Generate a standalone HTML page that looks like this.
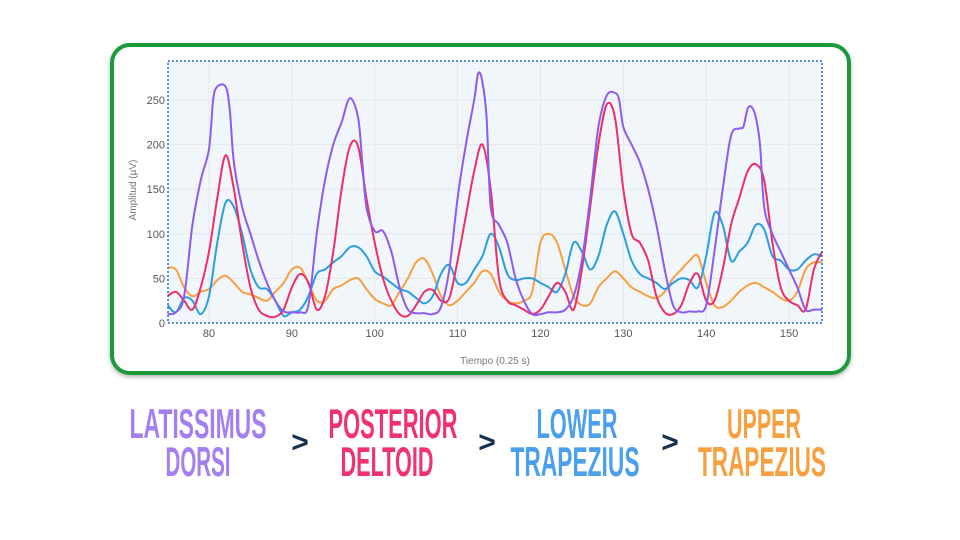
<!DOCTYPE html>
<html><head><meta charset="utf-8"><style>
html,body{margin:0;padding:0;background:#fff;}
svg{display:block;}
</style></head><body>
<svg id="s" width="960" height="540" xmlns="http://www.w3.org/2000/svg" font-family="Liberation Sans, sans-serif">
<defs><filter id="sh" x="-5%" y="-5%" width="110%" height="115%"><feDropShadow dx="0" dy="2" stdDeviation="2" flood-color="#000" flood-opacity="0.3"/></filter></defs>
<rect x="112" y="45" width="737" height="328" rx="18" fill="#fff" stroke="#1e9a3a" stroke-width="4" filter="url(#sh)"/>
<rect x="168" y="61" width="654" height="262" fill="#f1f6fa"/>
<g id="grid" stroke="#e2e8ee" stroke-width="1"></g>
<g id="lines" fill="none" stroke-width="2" stroke-linejoin="round"></g>
<rect x="168" y="61" width="654" height="262" fill="none" stroke="#1f6fd0" stroke-width="1.5" stroke-dasharray="2,2"/>
<g id="ticks" font-size="11" fill="#555"></g>
<text x="136" y="190" font-size="10" fill="#777" text-anchor="middle" transform="rotate(-90 136 190)">Amplitud (µV)</text>
<text x="495" y="364" font-size="10" fill="#777" text-anchor="middle">Tiempo (0.25 s)</text>
<g font-weight="bold" font-size="42" text-anchor="middle" lengthAdjust="spacingAndGlyphs">
<text x="198" y="438" fill="#a47ff0" textLength="137" lengthAdjust="spacingAndGlyphs">LATISSIMUS</text>
<text x="198" y="476" fill="#a47ff0" textLength="65" lengthAdjust="spacingAndGlyphs">DORSI</text>
<text x="393" y="438" fill="#f0336f" textLength="129" lengthAdjust="spacingAndGlyphs">POSTERIOR</text>
<text x="387" y="476" fill="#f0336f" textLength="93" lengthAdjust="spacingAndGlyphs">DELTOID</text>
<text x="577" y="438" fill="#4aa0ea" textLength="81" lengthAdjust="spacingAndGlyphs">LOWER</text>
<text x="575" y="476" fill="#4aa0ea" textLength="129" lengthAdjust="spacingAndGlyphs">TRAPEZIUS</text>
<text x="764" y="438" fill="#f7a040" textLength="74" lengthAdjust="spacingAndGlyphs">UPPER</text>
<text x="762" y="476" fill="#f7a040" textLength="128" lengthAdjust="spacingAndGlyphs">TRAPEZIUS</text>
<text x="300" y="452" fill="#16304f" font-size="30">&gt;</text>
<text x="487" y="452" fill="#16304f" font-size="30">&gt;</text>
<text x="670" y="452" fill="#16304f" font-size="30">&gt;</text>
</g>
</svg>
<script>
var NS="http://www.w3.org/2000/svg";
function X(v){return 209+(v-80)*8.286;}
function Y(v){return 323-v*0.892;}
var g=document.getElementById('grid'),t=document.getElementById('ticks');
for(var v=80;v<=150;v+=10){var l=document.createElementNS(NS,'line');l.setAttribute('x1',X(v));l.setAttribute('x2',X(v));l.setAttribute('y1',61);l.setAttribute('y2',323);g.appendChild(l);
var tx=document.createElementNS(NS,'text');tx.setAttribute('x',X(v));tx.setAttribute('y',337);tx.setAttribute('text-anchor','middle');tx.textContent=v;t.appendChild(tx);}
for(var v=0;v<=250;v+=50){if(v>0){var l=document.createElementNS(NS,'line');l.setAttribute('x1',168);l.setAttribute('x2',822);l.setAttribute('y1',Y(v));l.setAttribute('y2',Y(v));g.appendChild(l);}
var tx=document.createElementNS(NS,'text');tx.setAttribute('x',165);tx.setAttribute('y',Y(v)+4);tx.setAttribute('text-anchor','end');tx.textContent=v;t.appendChild(tx);}
var S={
"#f7a040":[75,62,76,60,77,40,78,30,79,35,80,38,81,48,82,53,83,45,84,35,85,32,86,28,87,25,88,35,89,45,90,60,91,62,92,45,93,25,94,25,95,38,96,42,97,48,98,50,99,38,100,27,101,22,102,20,103,35,104,50,105,68,106,72,107,55,108,30,109,20,110,25,111,35,112,45,113,58,114,55,115,35,116,25,117,22,118,25,119,35,120,90,121,100,122,90,123,60,124,30,125,20,126,22,127,40,128,50,129,58,130,50,131,40,132,35,133,30,134,28,135,35,136,50,137,60,138,70,139,75,140,45,141,20,142,18,143,25,144,35,145,42,146,45,147,40,148,35,149,28,150,25,151,35,152,60,153,68,154,68],
"#2a9ee0":[75,20,76,12,77,28,78,25,79,10,80,30,81,90,82,135,83,130,84,100,85,60,86,40,87,38,88,25,89,8,90,12,91,15,92,30,93,55,94,60,95,68,96,75,97,85,98,85,99,75,100,58,101,52,102,45,103,38,104,35,105,28,106,22,107,30,108,55,109,65,110,45,111,45,112,60,113,75,114,100,115,85,116,55,117,48,118,50,119,50,120,45,121,40,122,35,123,55,124,90,125,80,126,60,127,75,128,110,129,125,130,100,131,70,132,55,133,50,134,45,135,38,136,45,137,50,138,48,139,40,140,75,141,123,142,110,143,70,144,80,145,90,146,110,147,105,148,75,149,70,150,60,151,60,152,70,153,77,154,75],
"#ee2e68":[75,30,76,35,77,25,78,15,79,40,80,80,81,140,82,188,83,150,84,90,85,40,86,15,87,8,88,7,89,15,90,40,91,55,92,45,93,15,94,30,95,80,96,150,97,198,98,198,99,140,100,90,101,50,102,25,103,10,104,8,105,20,106,35,107,37,108,25,109,28,110,70,111,120,112,170,113,200,114,150,115,50,116,25,117,20,118,15,119,10,120,15,121,30,122,45,123,35,124,15,125,60,126,130,127,200,128,245,129,230,130,150,131,100,132,90,133,70,134,30,135,12,136,10,137,20,138,45,139,55,140,25,141,25,142,60,143,110,144,140,145,170,146,178,147,160,148,90,149,40,150,25,151,20,152,15,153,60,154,80],
"#8b5cf0":[75,10,76,12,77,30,78,110,79,160,80,195,80.5,250,81,265,82,265,82.5,240,83,180,84,130,85,100,86,70,87,45,88,25,89,13,90,12,91,12,92,20,93,100,94,160,95,200,96,225,97,252,98,230,98.5,180,99,130,100,103,101,103,102,80,103,40,104,15,105,11,106,11,107,10,108,18,109,60,110,140,111,200,112,250,112.5,280,113,270,113.5,230,114,130,115,110,116,90,117,50,118,25,119,10,120,10,121,12,122,12,123,15,124,30,125,70,126,140,127,220,128,255,129,258,129.5,250,130,220,131,200,132,180,133,150,134,110,135,60,136,20,137,12,138,13,139,13,140,20,141,80,142,150,143,210,144,218,144.5,220,145,240,145.5,242,146,230,146.5,200,147,130,148,100,149,80,150,60,151,40,152,15,153,15,154,15]};
var L=document.getElementById('lines');
for(var c in S){var a=S[c],p=[];for(var i=0;i<a.length;i+=2)p.push([X(a[i]),Y(a[i+1])]);
var d="M"+p[0][0].toFixed(1)+","+p[0][1].toFixed(1);
for(var i=0;i<p.length-1;i++){var p0=p[i-1]||p[i],p1=p[i],p2=p[i+1],p3=p[i+2]||p2;
var c1=[p1[0]+(p2[0]-p0[0])/6,p1[1]+(p2[1]-p0[1])/6],c2=[p2[0]-(p3[0]-p1[0])/6,p2[1]-(p3[1]-p1[1])/6];
d+="C"+c1[0].toFixed(1)+","+c1[1].toFixed(1)+" "+c2[0].toFixed(1)+","+c2[1].toFixed(1)+" "+p2[0].toFixed(1)+","+p2[1].toFixed(1);}
var e=document.createElementNS(NS,'path');e.setAttribute('d',d);e.setAttribute('stroke',c);L.appendChild(e);}
</script>
</body></html>
